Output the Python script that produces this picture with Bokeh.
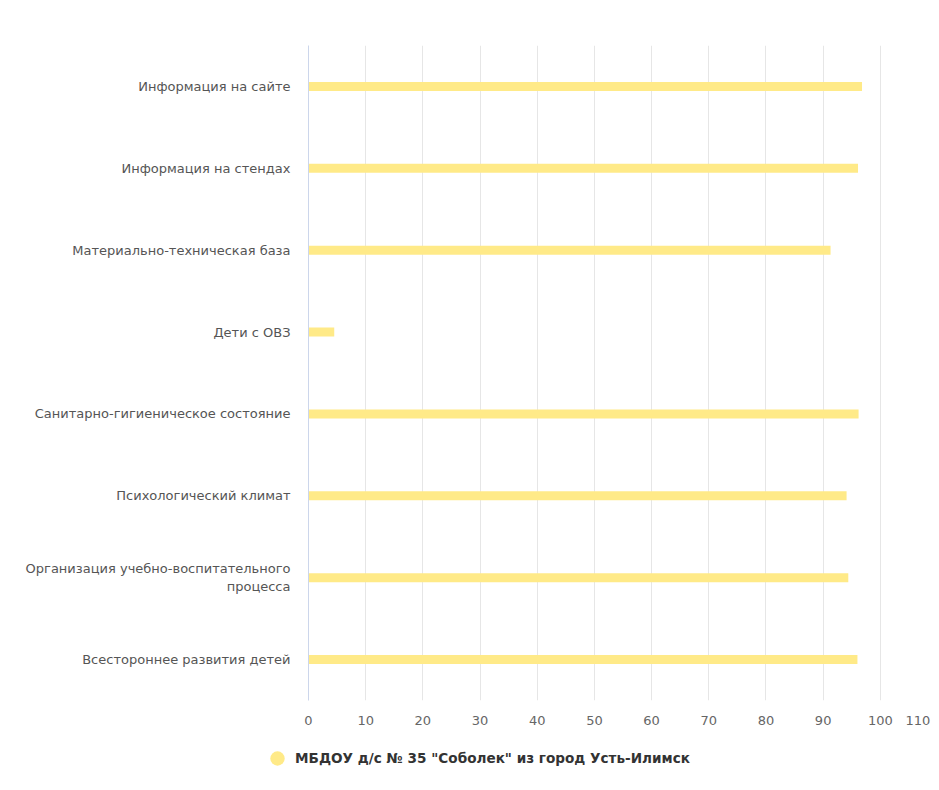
from bokeh.plotting import figure
from bokeh.models import Legend, LegendItem, ColumnDataSource, FixedTicker, Range1d
from bokeh.embed import file_html
from bokeh.resources import INLINE

categories = [
    "Информация на сайте",
    "Информация на стендах",
    "Материально-техническая база",
    "Дети с ОВЗ",
    "Санитарно-гигиеническое состояние",
    "Психологический климат",
    "Организация учебно-воспитательного\nпроцесса",
    "Всестороннее развития детей",
]
values = [96.8, 96.1, 91.3, 4.5, 96.2, 94.1, 94.4, 96.0]
series_name = 'МБДОУ д/с № 35 "Соболек" из город Усть-Илимск'
x_ticks = [0, 10, 20, 30, 40, 50, 60, 70, 80, 90, 100, 110]

FONT = "DejaVu Sans"
BAR = "#FFEA88"
W = 938

factors = list(reversed(categories))
p = figure(width=W, height=730, y_range=factors, x_range=(0, 110),
           output_backend="svg", toolbar_location=None,
           min_border_left=308, min_border_right=1,
           min_border_top=45, min_border_bottom=30)

src = ColumnDataSource(dict(cat=categories, val=values))
p.hbar(y="cat", right="val", left=0, height=0.11, source=src,
       fill_color=BAR, line_color=None)

p.outline_line_color = None
p.background_fill_color = "white"
p.border_fill_color = "white"

p.ygrid.grid_line_color = None
p.xgrid.grid_line_color = "#e6e6e6"
p.xgrid.ticker = FixedTicker(ticks=x_ticks)

p.xaxis.ticker = FixedTicker(ticks=x_ticks)
p.xaxis.major_label_overrides = {110: "110\u2007"}
p.xaxis.axis_line_color = None
p.xaxis.major_tick_line_color = None
p.xaxis.minor_tick_line_color = None
p.xaxis.major_label_text_font = FONT
p.xaxis.major_label_text_font_size = "13px"
p.xaxis.major_label_text_color = "#666666"
p.xaxis.major_label_standoff = 6

p.yaxis.axis_line_color = "#ccd6eb"
p.yaxis.major_tick_line_color = None
p.yaxis.minor_tick_line_color = None
p.yaxis.major_label_text_font = FONT
p.yaxis.major_label_text_font_size = "13px"
p.yaxis.major_label_text_color = "#555555"
p.yaxis.major_label_standoff = 12

# legend strip (separate root so its frame is not aligned with the chart)
q = figure(width=W, height=58, x_range=Range1d(0, 1), y_range=Range1d(0, 1),
           output_backend="svg", toolbar_location=None,
           min_border_left=0, min_border_right=0,
           min_border_top=0, min_border_bottom=0)
q.axis.visible = False
q.grid.visible = False
q.outline_line_color = None
dummy = q.scatter(x=[float("nan")], y=[float("nan")], marker="circle", size=13,
                  fill_color=BAR, line_color=None)
legend = Legend(items=[LegendItem(label=series_name, renderers=[dummy])],
                location=(259, 12), orientation="horizontal",
                margin=0, padding=0, border_line_color=None,
                background_fill_alpha=0,
                label_text_font=FONT, label_text_font_size="13.6px",
                label_text_font_style="bold", label_text_color="#333333",
                glyph_width=36, glyph_height=36, label_standoff=0)
q.add_layout(legend, "center")

open("out.html", "w").write(file_html([p, q], INLINE))
